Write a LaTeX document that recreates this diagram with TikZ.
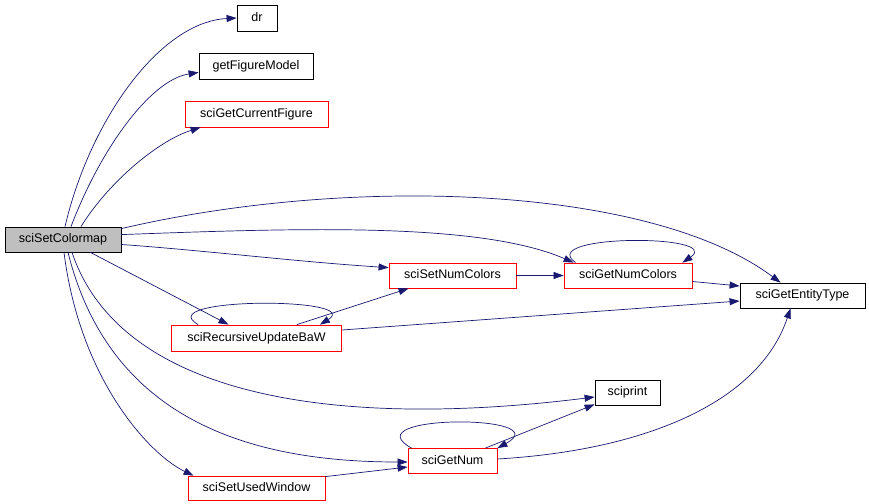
\documentclass[tikz,border=0pt]{standalone}
\usepackage{fontspec}
\setmainfont{Liberation Sans}
\usetikzlibrary{arrows.meta}
\definecolor{edgec}{HTML}{191970}
\definecolor{grayfill}{HTML}{BFBFBF}
\begin{document}
\begin{tikzpicture}[x=1pt,y=-1pt,
  box/.style={draw=black,line width=0.8pt,fill=white,inner sep=0pt,font=\fontsize{12.5}{14}\selectfont,text height=9pt,text depth=2.5pt},
  redbox/.style={box,draw=red},
  edge/.style={draw=edgec,line width=0.7pt,-{Triangle[length=10pt,width=7pt]}}]
\useasboundingbox[fill=white] (0,0) rectangle (869,503);
\node[box,fill=grayfill,minimum width=116pt,minimum height=25pt] (main) at (63,239.5) {sciSetColormap};
\node[box,minimum width=40pt,minimum height=26pt] (dr) at (257,18) {dr};
\node[box,minimum width=114pt,minimum height=26pt] (gfm) at (256,66) {getFigureModel};
\node[redbox,minimum width=143pt,minimum height=26pt] (sgcf) at (256.5,114) {sciGetCurrentFigure};
\node[redbox,minimum width=127pt,minimum height=25pt] (ssnc) at (452.5,275.5) {sciSetNumColors};
\node[redbox,minimum width=128pt,minimum height=25pt] (sgnc) at (628,275.5) {sciGetNumColors};
\node[box,minimum width=125pt,minimum height=25pt] (sget) at (802.5,295.5) {sciGetEntityType};
\node[redbox,minimum width=170pt,minimum height=26pt] (srub) at (256.5,338) {sciRecursiveUpdateBaW};
\node[box,minimum width=65pt,minimum height=25pt] (sprint) at (627.5,392.5) {sciprint};
\node[redbox,minimum width=89pt,minimum height=25pt] (sgn) at (452.5,461) {sciGetNum};
\node[redbox,minimum width=137pt,minimum height=24pt] (ssuw) at (256.5,488) {sciSetUsedWindow};

% from sciSetColormap
\draw[edge] ([xshift=2pt]main.north) .. controls (90,120) and (160,22) .. (dr.west);
\draw[edge] ([xshift=8pt]main.north) .. controls (100,150) and (150,80) .. ([yshift=7pt]gfm.south west);
\draw[edge] ([xshift=18pt]main.north) .. controls (110,180) and (160,140) .. ([xshift=16pt]sgcf.south west);
\draw[edge] ([yshift=-2pt]main.north east) .. controls (350,175) and (650,185) .. ([xshift=-22pt]sget.north);
\draw[edge] ([yshift=-8pt]main.north east) .. controls (300,228) and (480,222) .. ([xshift=10pt]sgnc.north west);
\draw[edge] ([yshift=-5pt]main.east) .. controls (200,250) and (300,262) .. ([yshift=-5pt]ssnc.north west);
\draw[edge] ([xshift=-31pt]main.south east) -- ([xshift=-28pt]srub.north);
\draw[edge] ([xshift=9pt]main.south) .. controls (120,395) and (330,430) .. ([yshift=-4.5pt]sprint.west);
\draw[edge] ([xshift=5pt]main.south) .. controls (110,420) and (250,462) .. ([yshift=-1pt]sgn.west);
\draw[edge] ([xshift=1pt]main.south) .. controls (80,380) and (150,455) .. ([xshift=6pt]ssuw.north west);

% others
\draw[edge] (ssnc.east) -- (sgnc.west);
\draw[edge] ([xshift=12pt]sgnc.north west) .. controls (535,234) and (725,234) .. ([xshift=-10pt]sgnc.north east);
\draw[edge] ([yshift=-6pt]sgnc.east) -- ([yshift=9.5pt]sget.west);
\draw[edge] ([xshift=-45pt]srub.north east) -- ([xshift=20pt]ssnc.south west);
\draw[edge] ([xshift=27pt]srub.north west) .. controls (150,297) and (365,297) .. ([xshift=-22pt]srub.north east);
\draw[edge] ([yshift=8pt]srub.east) -- ([yshift=-5.5pt]sget.west);
\draw[edge] ([xshift=-12pt]sgn.north east) -- ([yshift=1pt]sprint.south west);
\draw[edge] ([xshift=4pt]sgn.north west) .. controls (350,414) and (560,414) .. (sgn.north east);
\draw[edge] ([yshift=2pt]sgn.east) .. controls (650,450) and (760,400) .. ([xshift=-12pt]sget.south);
\draw[edge] ([yshift=-1pt]ssuw.north east) -- ([yshift=-6pt]sgn.west);
\end{tikzpicture}
\end{document}
